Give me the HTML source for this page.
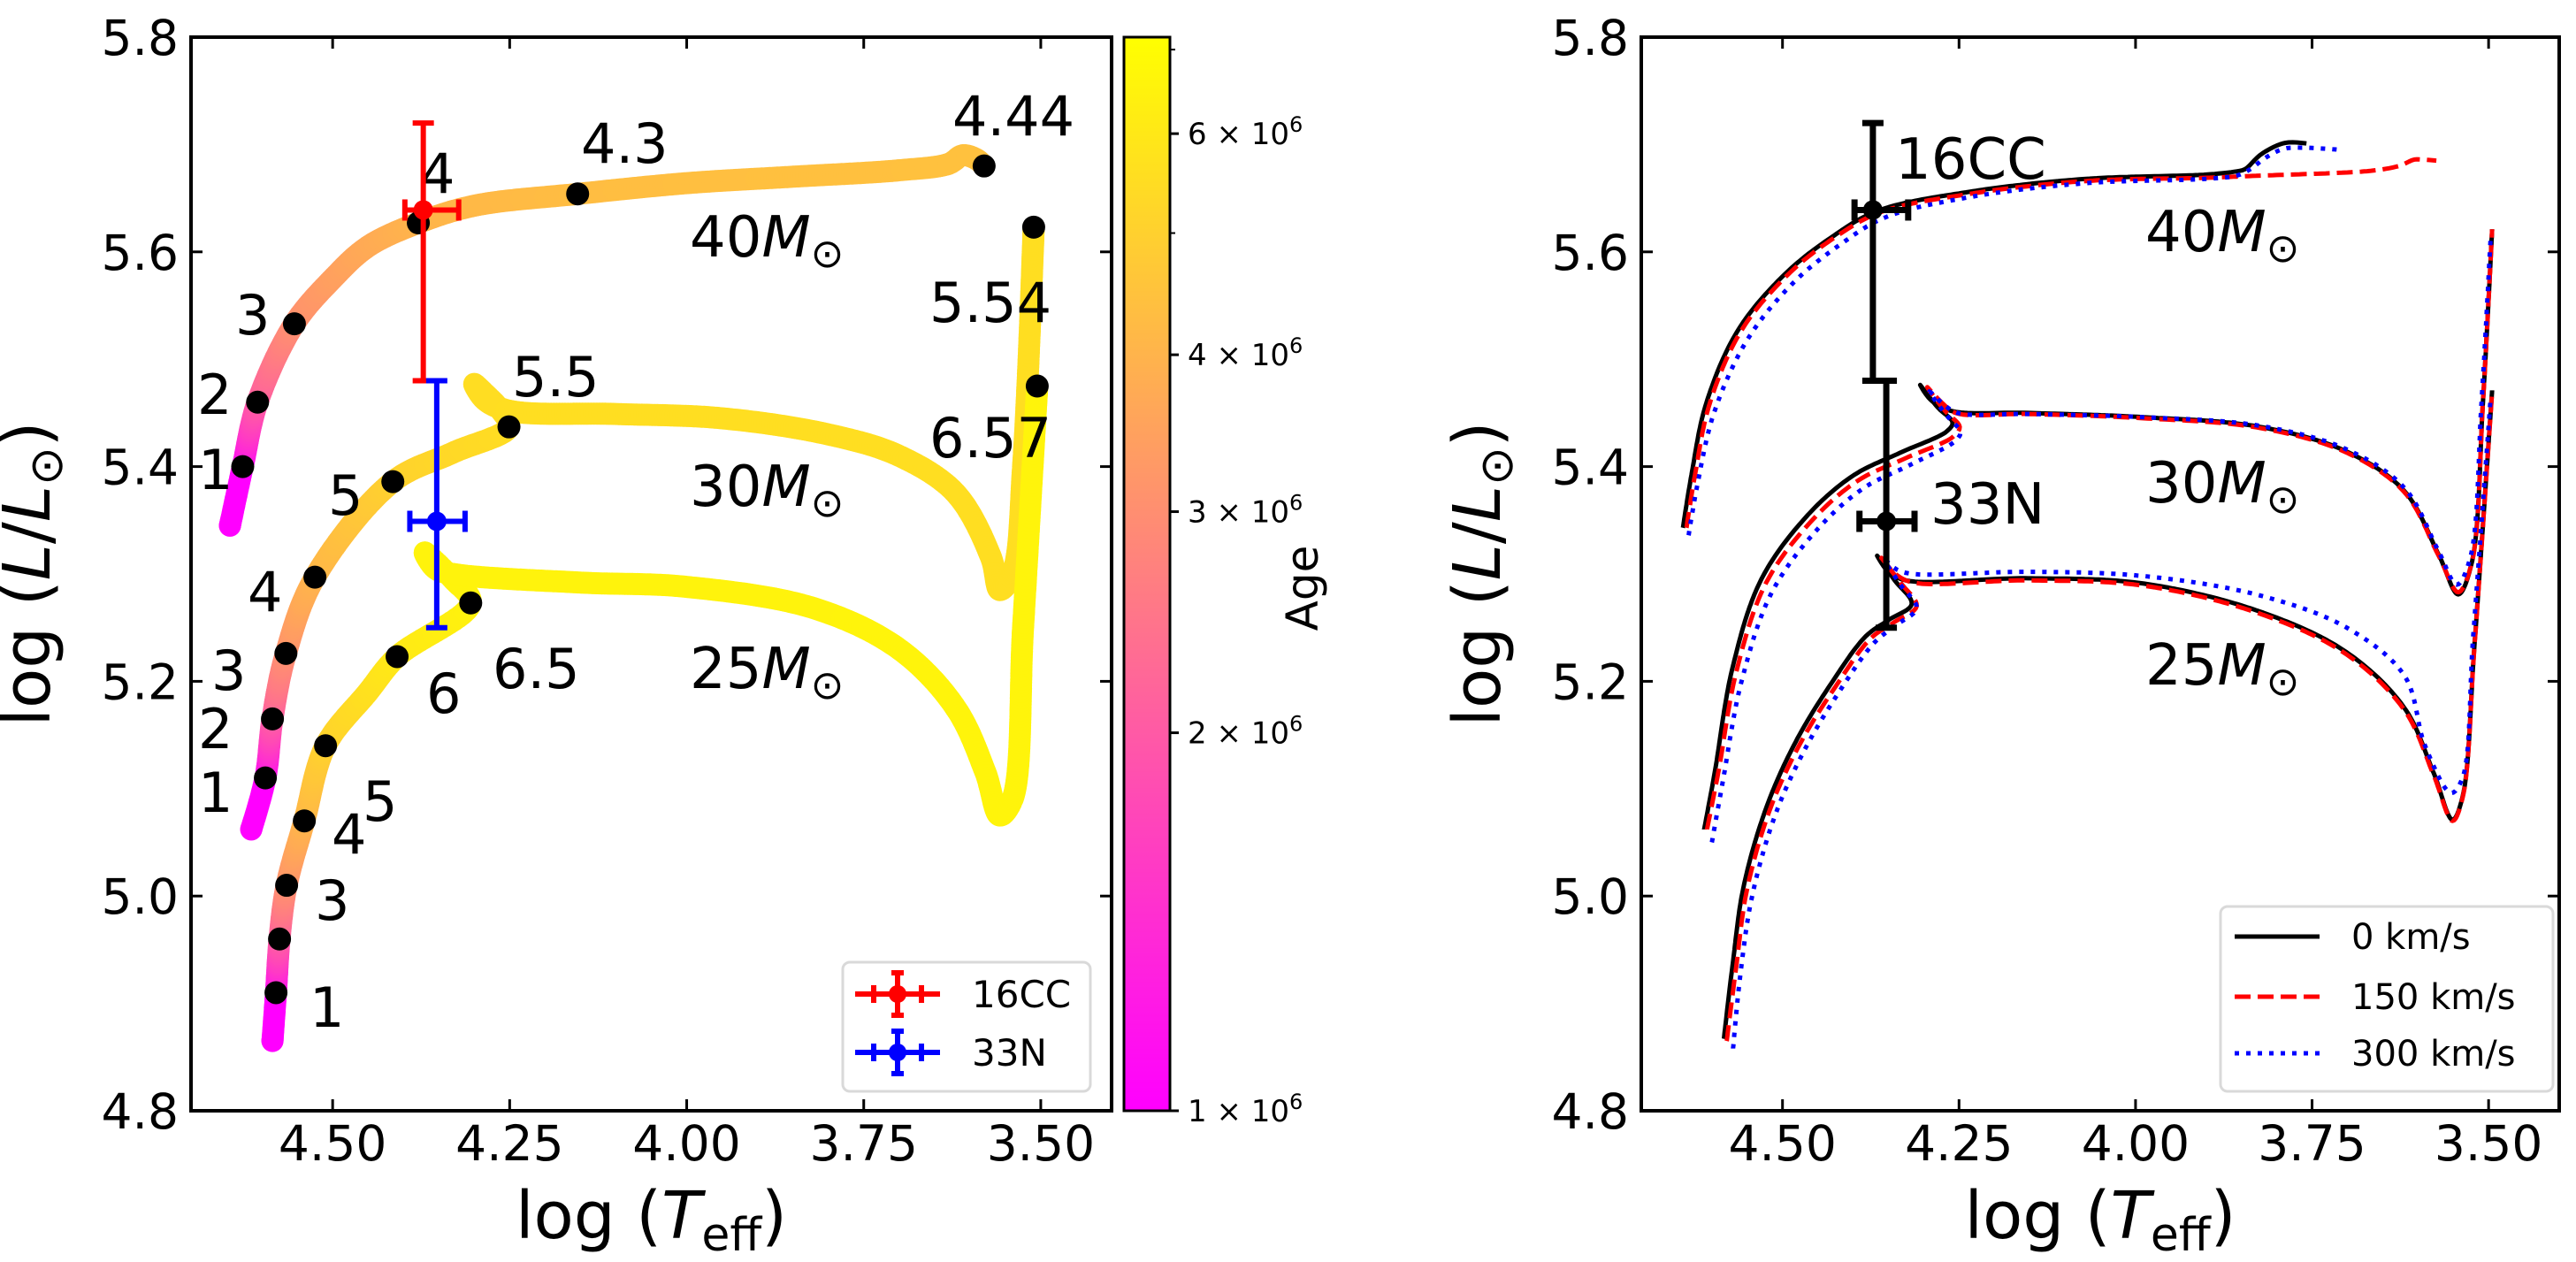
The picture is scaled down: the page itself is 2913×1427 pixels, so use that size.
<!DOCTYPE html>
<html><head><meta charset="utf-8">
<style>
html,body{margin:0;padding:0;background:#fff;}
svg{display:block;font-family:"DejaVu Sans","Liberation Sans",sans-serif;}
</style></head>
<body>
<svg id="fig" width="2913" height="1427" viewBox="0 0 2913 1427" xmlns="http://www.w3.org/2000/svg">
<defs>
<linearGradient id="springGrad" x1="0" y1="1" x2="0" y2="0">
<stop offset="0" stop-color="#ff00ff"/><stop offset="1" stop-color="#ffff00"/>
</linearGradient>
</defs>
<rect width="2913" height="1427" fill="#fff"/>
<g id="left"></g>
<g id="right"></g>
<g id="cbar"></g>
</svg>
<script>
// ---------- axis tick data ----------
const xTicks = [4.50, 4.25, 4.00, 3.75, 3.50];
const xTickLabels = ["4.50", "4.25", "4.00", "3.75", "3.50"];
const yTicks = [4.8, 5.0, 5.2, 5.4, 5.6, 5.8];
const yTickLabels = ["4.8", "5.0", "5.2", "5.4", "5.6", "5.8"];
const cbarTicks = [1, 2, 3, 4, 6];
const cbarMinorTicks = [5, 7];
const cbarTickLabels = ["1", "2", "3", "4", "6"];

// ---------- left panel: colour-coded tracks (Teff, L, age in Myr) ----------
const t40T = [4.645,4.627,4.606,4.554,4.50,4.45,4.379,4.30,4.154,4.00,3.85,3.70,3.63,3.61,3.59,3.58];
const t40L = [5.345,5.40,5.46,5.533,5.575,5.605,5.627,5.643,5.654,5.664,5.670,5.676,5.682,5.690,5.686,5.680];
const t40A = [0.3,1,2,3,3.4,3.7,4,4.15,4.3,4.36,4.4,4.42,4.43,4.435,4.44,4.44];
const t30T = [4.615,4.595,4.585,4.566,4.525,4.415,4.33,4.251,4.262,4.285,4.30,4.285,4.25,4.10,3.95,3.80,3.70,3.62,3.57,3.558,3.54,3.525,3.51];
const t30L = [5.062,5.11,5.165,5.226,5.297,5.386,5.413,5.437,5.452,5.468,5.477,5.462,5.452,5.449,5.445,5.430,5.410,5.375,5.315,5.285,5.300,5.400,5.623];
const t30A = [0.5,1,2,3,4,5,5.3,5.5,5.51,5.52,5.52,5.525,5.53,5.535,5.537,5.538,5.539,5.54,5.54,5.54,5.54,5.54,5.54];
const t25T = [4.585,4.58,4.575,4.565,4.54,4.51,4.45,4.409,4.305,4.33,4.37,4.355,4.33,4.15,4.00,3.82,3.70,3.62,3.578,3.558,3.54,3.525,3.505];
const t25L = [4.865,4.91,4.96,5.01,5.07,5.14,5.19,5.223,5.273,5.295,5.32,5.305,5.30,5.292,5.288,5.268,5.230,5.175,5.115,5.075,5.090,5.250,5.475];
const t25A = [0.5,1,2,3,4,5,5.6,6,6.5,6.51,6.515,6.52,6.525,6.53,6.54,6.55,6.56,6.565,6.57,6.57,6.57,6.57,6.57];

// age dots
const dotT = [4.627,4.606,4.554,4.379,4.154,3.58, 4.595,4.585,4.566,4.525,4.415,4.251,3.51, 4.58,4.575,4.565,4.54,4.51,4.409,4.305,3.505];
const dotL = [5.40,5.46,5.533,5.627,5.654,5.680, 5.11,5.165,5.226,5.297,5.386,5.437,5.623, 4.91,4.96,5.01,5.07,5.14,5.223,5.273,5.475];
const ageLabels = ["1","2","3","4","4.3","4.44","1","2","3","4","5","5.5","5.54","1","","3","4","5","6","6.5","6.57"];
const ageLabelPos = [[224,553],[223,468],[266,378],[475,218],[657,184],[1077,153],[224,918],[224,846],[239,780],[280,691],[371,582],[579,448],[1051,364],[350,1161],[0,0],[356,1040],[375,965],[410,928],[482,806],[557,778],[1051,517]];

// stars: 16CC, 33N
const starNames = ["16CC","33N"];
const starT = [4.372, 4.353];
const starL = [5.639, 5.349];
const starLup = [0.081, 0.131];
const starLdn = [0.159, 0.099];
const starThot = [0.026, 0.038];
const starTcool = [0.050, 0.040];

// ---------- right panel tracks (0, 150, 300 km/s) ----------
const b40T=[4.641,4.629,4.608,4.563,4.497,4.432,4.366,4.235,4.070,3.900,3.857,3.845,3.824,3.800,3.783,3.758];
const b40L=[5.343,5.392,5.459,5.527,5.579,5.613,5.638,5.656,5.668,5.672,5.675,5.677,5.690,5.699,5.702,5.701];
const r40T=[4.636,4.624,4.603,4.558,4.492,4.427,4.361,4.235,4.070,3.900,3.824,3.700,3.660,3.627,3.605,3.594,3.574];
const r40L=[5.343,5.392,5.459,5.527,5.579,5.613,5.637,5.654,5.666,5.669,5.671,5.674,5.676,5.680,5.686,5.686,5.685];
const u40T=[4.633,4.620,4.597,4.550,4.485,4.420,4.355,4.235,4.070,3.900,3.857,3.840,3.815,3.790,3.760,3.709];
const u40L=[5.336,5.385,5.450,5.518,5.571,5.606,5.632,5.651,5.664,5.668,5.671,5.676,5.688,5.696,5.697,5.695];
const b30T=[4.611,4.596,4.571,4.530,4.464,4.399,4.333,4.267,4.259,4.280,4.305,4.290,4.262,4.152,3.988,3.824,3.701,3.619,3.570,3.543,3.524,3.508,3.495];
const b30L=[5.062,5.115,5.212,5.295,5.355,5.392,5.413,5.433,5.441,5.455,5.476,5.462,5.452,5.450,5.446,5.437,5.414,5.377,5.317,5.281,5.310,5.460,5.621];
const r30T=[4.607,4.591,4.565,4.523,4.458,4.393,4.325,4.258,4.249,4.270,4.295,4.275,4.255,4.152,3.988,3.824,3.701,3.619,3.570,3.543,3.524,3.508,3.495];
const r30L=[5.062,5.115,5.210,5.292,5.350,5.387,5.408,5.428,5.437,5.452,5.474,5.460,5.450,5.449,5.445,5.436,5.413,5.376,5.316,5.283,5.310,5.460,5.621];
const u30T=[4.600,4.585,4.558,4.515,4.450,4.385,4.318,4.255,4.248,4.268,4.292,4.272,4.252,4.152,3.988,3.824,3.701,3.619,3.570,3.545,3.526,3.510,3.497];
const u30L=[5.050,5.105,5.200,5.283,5.342,5.380,5.402,5.424,5.432,5.448,5.470,5.458,5.450,5.449,5.446,5.438,5.416,5.380,5.320,5.290,5.315,5.460,5.615];
const b25T=[4.583,4.571,4.555,4.522,4.481,4.432,4.382,4.350,4.317,4.341,4.366,4.350,4.325,4.152,3.988,3.824,3.701,3.619,3.578,3.551,3.537,3.520,3.495];
const b25L=[4.867,4.934,5.009,5.084,5.144,5.197,5.242,5.257,5.272,5.294,5.317,5.302,5.294,5.296,5.291,5.265,5.227,5.175,5.115,5.071,5.092,5.234,5.471];
const r25T=[4.579,4.566,4.550,4.517,4.475,4.425,4.375,4.342,4.310,4.333,4.360,4.340,4.315,4.152,3.988,3.824,3.701,3.619,3.578,3.551,3.537,3.520,3.495];
const r25L=[4.865,4.932,5.007,5.082,5.142,5.195,5.240,5.255,5.270,5.292,5.315,5.300,5.292,5.294,5.289,5.263,5.225,5.173,5.113,5.070,5.091,5.233,5.470];
const u25T=[4.570,4.560,4.543,4.510,4.468,4.420,4.370,4.340,4.310,4.333,4.355,4.338,4.315,4.152,3.988,3.824,3.701,3.619,3.590,3.553,3.537,3.522,3.497];
const u25L=[4.858,4.925,5.000,5.076,5.137,5.190,5.236,5.252,5.268,5.290,5.313,5.304,5.300,5.302,5.298,5.280,5.250,5.205,5.140,5.096,5.110,5.240,5.465];

// ---------- geometry ----------
const NS="http://www.w3.org/2000/svg";
const TOP=42, BOT=1256, TMAX=4.70, TMIN=3.40, LMAX=5.8, LMIN=4.8;
const L1=216, R1=1257, L2=1856, R2=2894;
function xs(x0,x1){return t=>x0+(TMAX-t)/(TMAX-TMIN)*(x1-x0);}
function ys(l){return TOP+(LMAX-l)/(LMAX-LMIN)*(BOT-TOP);}
const xL=xs(L1,R1), xR=xs(L2,R2);
function el(tag,attrs,parent){const e=document.createElementNS(NS,tag);for(const k in attrs)e.setAttribute(k,attrs[k]);parent.appendChild(e);return e;}
function spring(age){let t=(Math.log10(age*1e6)-6)/0.855;t=Math.max(0,Math.min(1,t));return `rgb(255,${Math.round(255*t)},${Math.round(255*(1-t))})`;}

// centripetal Catmull-Rom sampling in pixel space; returns [x,y,segIndex,frac]
function smooth(P,step){
  const out=[];const n=P.length;
  for(let i=0;i<n-1;i++){
    const p0=P[Math.max(0,i-1)],p1=P[i],p2=P[i+1],p3=P[Math.min(n-1,i+2)];
    const d=(a,b)=>Math.max(1e-3,Math.pow(Math.hypot(b[0]-a[0],b[1]-a[1]),0.5));
    const t0=0,t1=t0+d(p0,p1),t2=t1+d(p1,p2),t3=t2+d(p2,p3);
    const len=Math.hypot(p2[0]-p1[0],p2[1]-p1[1]);
    const m=Math.max(2,Math.ceil(len/step));
    for(let k=0;k<m;k++){
      const f=k/m,t=t1+(t2-t1)*f;
      const pt=[0,1].map(j=>{
        const A1=(t1-t)/(t1-t0)*p0[j]+(t-t0)/(t1-t0)*p1[j];
        const A2=(t2-t)/(t2-t1)*p1[j]+(t-t1)/(t2-t1)*p2[j];
        const A3=(t3-t)/(t3-t2)*p2[j]+(t-t2)/(t3-t2)*p3[j];
        const B1=(t2-t)/(t2-t0)*A1+(t-t0)/(t2-t0)*A2;
        const B2=(t3-t)/(t3-t1)*A2+(t-t1)/(t3-t1)*A3;
        return (t2-t)/(t2-t1)*B1+(t-t1)/(t2-t1)*B2;});
      out.push([pt[0],pt[1],i,f]);
    }
  }
  out.push([P[n-1][0],P[n-1][1],n-2,1]);
  return out;
}

function axes(g,x0,x1,xf,name){
  for(let i=0;i<xTicks.length;i++){
    const x=xf(xTicks[i]);
    const tk=el('line',{x1:x,x2:x,y1:BOT,y2:BOT-13,stroke:'#000','stroke-width':3},g);
    
    
    el('line',{x1:x,x2:x,y1:TOP,y2:TOP+13,stroke:'#000','stroke-width':3},g);
    const t=el('text',{x:x,y:1312,'font-size':55,'text-anchor':'middle'},g);
    t.textContent=xTickLabels[i];
    
    
  }
  for(let i=0;i<yTicks.length;i++){
    const y=ys(yTicks[i]);
    const tk=el('line',{x1:x0,x2:x0+13,y1:y,y2:y,stroke:'#000','stroke-width':3},g);
    
    
    el('line',{x1:x1,x2:x1-13,y1:y,y2:y,stroke:'#000','stroke-width':3},g);
    const t=el('text',{x:x0-14,y:y+20,'font-size':55,'text-anchor':'end'},g);
    t.textContent=yTickLabels[i];
    
    
  }
  const fr=el('rect',{x:x0,y:TOP,width:x1-x0,height:BOT-TOP,fill:'none',stroke:'#000','stroke-width':4},g);
  
  
  const xl=el('text',{x:(x0+x1)/2,y:1400,'font-size':74,'text-anchor':'middle'},g);
  xl.innerHTML='log (<tspan font-style="italic">T</tspan><tspan font-size="52" dy="14">eff</tspan><tspan dy="-14">)</tspan>';
  
  
  const cx=x0-160, cy=(TOP+BOT)/2;
  const yl=el('text',{x:cx,y:cy,'font-size':74,'text-anchor':'middle',transform:`rotate(-90 ${cx} ${cy})`},g);
  yl.innerHTML='log (<tspan font-style="italic">L</tspan>/<tspan font-style="italic">L</tspan><tspan font-size="52" dy="14">⊙</tspan><tspan dy="-14">)</tspan>';
  
  
}
function massLabel(g,x,y,m){
  const t=el('text',{x:x,y:y,'font-size':64},g);
  t.innerHTML=m+'<tspan font-style="italic">M</tspan><tspan font-size="45" dy="12">⊙</tspan>';
  
  
}
function errbar(g,i,xf,color,w,name){
  const x=xf(starT[i]), y=ys(starL[i]);
  const xa=xf(starT[i]+starThot[i]), xb=xf(starT[i]-starTcool[i]);
  const ya=ys(starL[i]+starLup[i]), yb=ys(starL[i]-starLdn[i]);
  const gg=el('g',{},g);
  
  
  el('line',{x1:x,x2:x,y1:ya,y2:yb,stroke:color,'stroke-width':w},gg);
  el('line',{x1:xa,x2:xb,y1:y,y2:y,stroke:color,'stroke-width':w},gg);
  el('line',{x1:x-12,x2:x+12,y1:ya,y2:ya,stroke:color,'stroke-width':w},gg);
  el('line',{x1:x-12,x2:x+12,y1:yb,y2:yb,stroke:color,'stroke-width':w},gg);
  el('line',{x1:xa,x2:xa,y1:y-12,y2:y+12,stroke:color,'stroke-width':w},gg);
  el('line',{x1:xb,x2:xb,y1:y-12,y2:y+12,stroke:color,'stroke-width':w},gg);
  el('circle',{cx:x,cy:y,r:11,fill:color},gg);
}

// ---------- LEFT PANEL ----------
const gl=document.getElementById('left');
function scatterTrack(T,L,A,name){
  const g=el('g',{},gl);
  
  
  const P=T.map((t,i)=>[xL(t),ys(L[i])]);
  for(const s of smooth(P,3)){
    const a=A[s[2]]+(A[s[2]+1]-A[s[2]])*s[3];
    el('circle',{cx:s[0].toFixed(1),cy:s[1].toFixed(1),r:12.5,fill:spring(a)},g);
  }
}
scatterTrack(t40T,t40L,t40A,'track-40msun-age');
scatterTrack(t30T,t30L,t30A,'track-30msun-age');
scatterTrack(t25T,t25L,t25A,'track-25msun-age');
for(let i=0;i<dotT.length;i++){
  const c=el('circle',{cx:xL(dotT[i]),cy:ys(dotL[i]),r:13,fill:'#000'},gl);
  
  
  if(ageLabels[i]){
    const t=el('text',{x:ageLabelPos[i][0],y:ageLabelPos[i][1],'font-size':62},gl);
    t.textContent=ageLabels[i];
    
    
  }
}
errbar(gl,0,xL,'#ff0000',6,'errorbar-16cc');
errbar(gl,1,xL,'#0000ff',6,'errorbar-33n');
massLabel(gl,780,290,'40');
massLabel(gl,780,572,'30');
massLabel(gl,780,778,'25');
axes(gl,L1,R1,xL,'left');
(function(){
  const g=el('g',{},gl);
  
  
  el('rect',{x:953,y:1088,width:280,height:146,rx:8,fill:'#fff',stroke:'#d9d9d9','stroke-width':3},g);
  const cols=['#ff0000','#0000ff'], ys2=[1124,1190];
  for(let i=0;i<2;i++){
    const gg=el('g',{},g);
    
    
    const cx=1015,cy=ys2[i],c=cols[i];
    el('line',{x1:cx-48,x2:cx+48,y1:cy,y2:cy,stroke:c,'stroke-width':6},gg);
    el('line',{x1:cx,x2:cx,y1:cy-24,y2:cy+24,stroke:c,'stroke-width':6},gg);
    el('line',{x1:cx-7,x2:cx+7,y1:cy-24,y2:cy-24,stroke:c,'stroke-width':6},gg);
    el('line',{x1:cx-7,x2:cx+7,y1:cy+24,y2:cy+24,stroke:c,'stroke-width':6},gg);
    el('line',{x1:cx-27,x2:cx-27,y1:cy-10,y2:cy+10,stroke:c,'stroke-width':6},gg);
    el('line',{x1:cx+27,x2:cx+27,y1:cy-10,y2:cy+10,stroke:c,'stroke-width':6},gg);
    el('circle',{cx:cx,cy:cy,r:10,fill:c},gg);
    const t=el('text',{x:1099,y:cy+15,'font-size':42},gg);
    t.textContent=starNames[i];
  }
})();

// ---------- COLORBAR ----------
const gc=document.getElementById('cbar');
const CX0=1271,CX1=1323;
el('rect',{x:CX0,y:TOP,width:CX1-CX0,height:BOT-TOP,fill:'url(#springGrad)',stroke:'#000','stroke-width':3},gc);
function cy(a){return BOT-(Math.log10(a*1e6)-6)/0.855*(BOT-TOP);}
for(let i=0;i<cbarTicks.length;i++){
  const y=cy(cbarTicks[i]);
  el('line',{x1:CX1,x2:CX1+10,y1:y,y2:y,stroke:'#000','stroke-width':3},gc);
  const t=el('text',{x:CX1+20,y:y+12,'font-size':34},gc);
  t.innerHTML=cbarTickLabels[i]+' × 10<tspan font-size="24" dy="-14">6</tspan>';
  
  
}
for(const m of cbarMinorTicks){const y=cy(m); if(y>=TOP) el('line',{x1:CX1,x2:CX1+6,y1:y,y2:y,stroke:'#000','stroke-width':2},gc);}
(function(){const t=el('text',{x:1490,y:665,'font-size':50,'text-anchor':'middle',transform:'rotate(-90 1490 665)'},gc);
t.textContent='Age';

})();

// ---------- RIGHT PANEL ----------
const gr=document.getElementById('right');
function line(T,L,color,dash,name){
  const P=T.map((t,i)=>[xR(t),ys(L[i])]);
  const p=smooth(P,4).map(s=>s[0].toFixed(1)+','+s[1].toFixed(1)).join(' ');
  const a={points:p,fill:'none',stroke:color,'stroke-width':5,'stroke-linejoin':'round'};
  if(dash)a['stroke-dasharray']=dash;
  const e=el('polyline',a,gr);
  
  
}
line(b40T,b40L,'#000',null,'track-40msun-0kms');
line(b30T,b30L,'#000',null,'track-30msun-0kms');
line(b25T,b25L,'#000',null,'track-25msun-0kms');
line(r40T,r40L,'#ff0000','18,8','track-40msun-150kms');
line(r30T,r30L,'#ff0000','18,8','track-30msun-150kms');
line(r25T,r25L,'#ff0000','18,8','track-25msun-150kms');
line(u40T,u40L,'#0000ff','5,8','track-40msun-300kms');
line(u30T,u30L,'#0000ff','5,8','track-30msun-300kms');
line(u25T,u25L,'#0000ff','5,8','track-25msun-300kms');
errbar(gr,0,xR,'#000',7,'errorbar-16cc-right');
errbar(gr,1,xR,'#000',7,'errorbar-33n-right');
(function(){
  let t=el('text',{x:2143,y:202,'font-size':64},gr);t.textContent='16CC';
  
  
  t=el('text',{x:2183,y:592,'font-size':64},gr);t.textContent='33N';
  
  
})();
massLabel(gr,2426,284,'40');
massLabel(gr,2426,568,'30');
massLabel(gr,2426,774,'25');
axes(gr,L2,R2,xR,'right');
(function(){
  const g=el('g',{},gr);
  
  
  el('rect',{x:2511,y:1025,width:376,height:209,rx:8,fill:'#fff',stroke:'#d9d9d9','stroke-width':3},g);
  const rows=[[1059,'#000',null,'0 km/s'],[1127,'#ff0000','18,8','150 km/s'],[1191,'#0000ff','5,8','300 km/s']];
  for(const r of rows){
    const gg=el('g',{},g);
    
    
    const a={x1:2527,x2:2623,y1:r[0],y2:r[0],stroke:r[1],'stroke-width':5};
    if(r[2])a['stroke-dasharray']=r[2];
    el('line',a,gg);
    const t=el('text',{x:2659,y:r[0]+14,'font-size':40},gg);t.textContent=r[3];
  }
})();
</script>
</body></html>
